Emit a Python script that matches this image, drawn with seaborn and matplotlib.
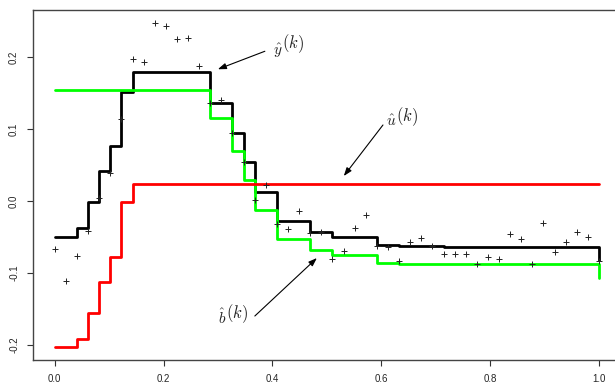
import numpy as np
import pandas as pd
import seaborn as sns
import matplotlib
matplotlib.use('Agg')
import matplotlib.pyplot as plt

sns.set_style('ticks')
plt.rcParams['font.family'] = ['Liberation Sans', 'DejaVu Sans']
plt.rcParams['mathtext.fontset'] = 'cm'

k = np.arange(50)
x = k / 49

obs = [-0.066, -0.111, -0.076, -0.041, 0.004, 0.039, 0.114, 0.197, 0.193, 0.247,
       0.243, 0.225, 0.226, 0.188, 0.136, 0.140, 0.094, 0.054, 0.002, 0.022,
       -0.032, -0.039, -0.014, -0.045, -0.043, -0.081, -0.069, -0.037, -0.019, -0.062,
       -0.064, -0.083, -0.057, -0.052, -0.063, -0.073, -0.073, -0.074, -0.087, -0.078,
       -0.080, -0.046, -0.053, -0.087, -0.031, -0.071, -0.057, -0.043, -0.050, -0.083]

# fitted y (black)
y_hat = [-0.0495, -0.0495, -0.037, -0.002, 0.042, 0.077, 0.151, 0.179, 0.179, 0.179,
         0.179, 0.179, 0.179, 0.179, 0.1365, 0.1365, 0.095, 0.054, 0.013, 0.013,
         -0.028, -0.028, -0.028, -0.0435, -0.0435, -0.0495, -0.0495, -0.0495, -0.0495, -0.0615,
         -0.0615, -0.0625, -0.0625, -0.0625, -0.0625, -0.0635, -0.0635, -0.0635, -0.0635, -0.0635,
         -0.0635, -0.0635, -0.0635, -0.0635, -0.0635, -0.0635, -0.0635, -0.0635, -0.0635, -0.082]

# decreasing part b (green)
b_hat = [0.154, 0.154, 0.154, 0.154, 0.154, 0.154, 0.154, 0.154, 0.154, 0.154,
         0.154, 0.154, 0.154, 0.154, 0.115, 0.115, 0.070, 0.029, -0.0125, -0.0125,
         -0.053, -0.053, -0.053, -0.0685, -0.0685, -0.0745, -0.0745, -0.0745, -0.0745, -0.086,
         -0.086, -0.0868, -0.0868, -0.0868, -0.0868, -0.0878, -0.0878, -0.0878, -0.0878, -0.0878,
         -0.0878, -0.0878, -0.0878, -0.0878, -0.0878, -0.0878, -0.0878, -0.0878, -0.0878, -0.1065]

# increasing part u (red)
u_hat = [-0.203, -0.203, -0.192, -0.156, -0.112, -0.078, -0.002, 0.024, 0.024, 0.024,
         0.024, 0.024, 0.024, 0.024, 0.024, 0.024, 0.024, 0.024, 0.024, 0.024,
         0.024, 0.024, 0.024, 0.024, 0.024, 0.024, 0.024, 0.024, 0.024, 0.024,
         0.024, 0.024, 0.024, 0.024, 0.024, 0.024, 0.024, 0.024, 0.024, 0.024,
         0.024, 0.024, 0.024, 0.024, 0.024, 0.024, 0.024, 0.024, 0.024, 0.024]

df = pd.DataFrame({'x': x, 'obs': obs, 'y_hat': y_hat, 'b_hat': b_hat, 'u_hat': u_hat})

# ── plot ─────────────────────────────────────────────────────────────────────
fig = plt.figure(figsize=(6.15, 3.83), dpi=100)
ax = fig.add_axes([33 / 615, 23 / 383, 587.8 / 615, 350 / 383])

sns.scatterplot(data=df, x='x', y='obs', marker='+', s=22, color='#222222',
                linewidth=0.7, ax=ax, zorder=4)
sns.lineplot(data=df, x='x', y='y_hat', drawstyle='steps-post', color='black',
             lw=2.0, estimator=None, ax=ax, zorder=2)
sns.lineplot(data=df, x='x', y='b_hat', drawstyle='steps-post', color='#00ff00',
             lw=2.0, estimator=None, ax=ax, zorder=3)
sns.lineplot(data=df, x='x', y='u_hat', drawstyle='steps-post', color='#ff0000',
             lw=2.0, estimator=None, ax=ax, zorder=3)

ax.set_xlim(-0.04, 1.04)
ax.set_ylim(-0.2208, 0.2653)
ax.set_xticks([0.0, 0.2, 0.4, 0.6, 0.8, 1.0])
ax.set_xticklabels(['0.0', '0.2', '0.4', '0.6', '0.8', '1.0'])
ax.set_yticks([-0.2, -0.1, 0.0, 0.1, 0.2])
ax.set_yticklabels(['-0.2', '-0.1', '0.0', '0.1', '0.2'], rotation=90, va='center')
ax.tick_params(length=4, width=0.8, labelsize=7, color='#333333', pad=6)
ax.set_xlabel('')
ax.set_ylabel('')
for sp in ax.spines.values():
    sp.set_visible(True)
    sp.set_color('#444444')
    sp.set_linewidth(1.0)

# labels with arrows: hat symbol plus a raised (k)
arrow = dict(arrowstyle='-|>,head_length=0.5,head_width=0.18', color='black', lw=0.8,
             shrinkA=0, shrinkB=0)
lab = dict(ha='center', va='center', color='#222222')
ax.text(0.409, 0.2083, r'$\hat{y}$', fontsize=11, **lab)
ax.text(0.437, 0.2190, r'$(k)$', fontsize=12, **lab)
ax.annotate('', xy=(0.2996, 0.183), xytext=(0.386, 0.208), arrowprops=arrow)
ax.text(0.6176, 0.1111, r'$\hat{u}$', fontsize=11, **lab)
ax.text(0.648, 0.1170, r'$(k)$', fontsize=12, **lab)
ax.annotate('', xy=(0.531, 0.0347), xytext=(0.603, 0.1056), arrowprops=arrow)
ax.text(0.307, -0.161, r'$\hat{b}$', fontsize=11, **lab)
ax.text(0.334, -0.1560, r'$(k)$', fontsize=12, **lab)
ax.annotate('', xy=(0.4816, -0.0792), xytext=(0.3676, -0.1597), arrowprops=arrow)

fig.savefig('out.png', dpi=100)
